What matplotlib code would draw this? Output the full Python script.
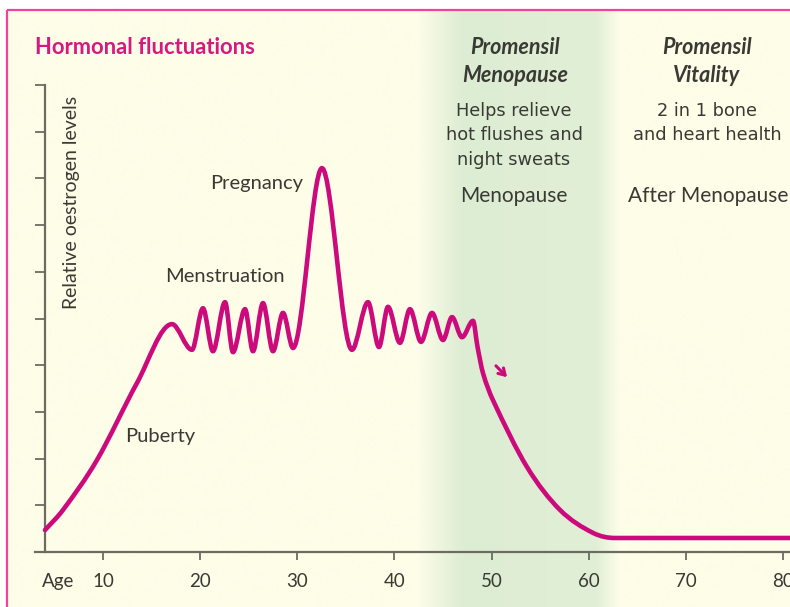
import numpy as np
import matplotlib
matplotlib.use('Agg')
import matplotlib.pyplot as plt
from matplotlib.path import Path
from matplotlib.patches import PathPatch

# ---------------- data ----------------
ages = [4.03, 5.88, 9.38, 13.50, 17.10, 19.16, 20.29, 21.32, 22.56,
        23.38, 24.62, 25.44, 26.47, 27.50, 28.53, 29.56, 32.54, 35.63, 37.28,
        38.41, 39.34, 40.57, 41.60, 42.74, 43.87, 45.00, 45.93, 46.96, 48.09,
        48.55, 49.12, 50.15, 53.65, 57.05, 60.44, 62.71, 82.0]
levels = [0.47, 0.90, 1.97, 3.62, 4.88, 4.33, 5.22, 4.30, 5.35,
          4.28, 5.20, 4.30, 5.33, 4.30, 5.12, 4.37, 8.22, 4.33, 5.35,
          4.39, 5.25, 4.48, 5.20, 4.50, 5.12, 4.54, 5.03, 4.60, 4.95,
          4.40, 3.83, 3.25, 1.82, 0.90, 0.41, 0.30, 0.30]
x_ticks = [10, 20, 30, 40, 50, 60, 70, 80]
y_ticks = [1, 2, 3, 4, 5, 6, 7, 8, 9, 10]
phase_labels = [("Puberty", 12.3, 2.48), ("Menstruation", 16.4, 5.89), ("Pregnancy", 21.0, 7.90)]

# ---------------- styling ----------------
W, H = 790, 607
CREAM = np.array([253, 253, 232]) / 255
GREEN = np.array([221, 237, 211]) / 255
BORDER = '#F0449C'
CURVE = '#CC0A7C'
TITLE = '#D41A80'
TXT = '#3a3a35'
AXC = '#6b6b60'
FONT = 'Lato'

fig = plt.figure(figsize=(W / 100, H / 100), dpi=100, facecolor='white')

# background layer in pixel coordinates
bg = fig.add_axes([0, 0, 1, 1])
bg.set_xlim(0, W)
bg.set_ylim(H, 0)
bg.axis('off')
xs = np.arange(7, W + 1)
stops = [7, 418, 462, 596, 620, W]
wts = [0, 0, 1, 0.9, 0, 0]
w = np.interp(xs, stops, wts)
img = (CREAM[None, :] * (1 - w[:, None]) + GREEN[None, :] * w[:, None])[None, :, :]
bg.imshow(img, extent=(7, W, H, 10), aspect='auto', interpolation='bilinear', zorder=0)
bg.plot([7, 7], [10, H], color=BORDER, lw=1.6, zorder=2, solid_capstyle='butt')
bg.plot([7, W], [10, 10], color=BORDER, lw=1.6, zorder=2, solid_capstyle='butt')

# header texts
bg.text(35, 47, 'Hormonal fluctuations', fontfamily=FONT, fontweight='bold',
        fontsize=15.8, color=TITLE, ha='left', va='center')
bg.text(72, 202, 'Relative oestrogen levels', rotation=90, fontfamily=FONT,
        fontsize=14, color=TXT, ha='center', va='center')
hdr = dict(fontfamily=FONT, fontweight='bold', fontstyle='italic', fontsize=15.5,
           color=TXT, ha='center', va='center')
bg.text(515, 47, 'Promensil', **hdr)
bg.text(515, 75, 'Menopause', **hdr)
bg.text(707, 47, 'Promensil', **hdr)
bg.text(707, 75, 'Vitality', **hdr)
sub = dict(fontfamily='DejaVu Sans', fontsize=12.8, color=TXT, ha='center', va='center')
for t, y in [('Helps relieve', 111), ('hot flushes and', 135), ('night sweats', 160)]:
    bg.text(514, y, t, **sub)
for t, y in [('2 in 1 bone', 111), ('and heart health', 135)]:
    bg.text(707, y, t, **sub)
ph = dict(fontfamily=FONT, fontsize=15, color=TXT, ha='center', va='center')
bg.text(514, 196, 'Menopause', **ph)
bg.text(708, 196, 'After Menopause', **ph)
bg.text(58, 582, 'Age', fontfamily=FONT, fontsize=13.5, color=TXT, ha='center', va='center')

# main chart axes
x0, x1 = 3.0, 82.0
ax = fig.add_axes([35 / W, (H - 552) / H, (802.4 - 35) / W, (552 - 15) / H])
ax.set_facecolor('none')
ax.set_xlim(x0, x1)
ax.set_ylim(0, 11.5)
for s in ['top', 'right']:
    ax.spines[s].set_visible(False)
ax.spines['left'].set_position(('data', ages[0]))
ax.spines['left'].set_bounds(0, 10)
ax.spines['bottom'].set_bounds(x0, x1)
for s in ['left', 'bottom']:
    ax.spines[s].set_color(AXC)
    ax.spines[s].set_linewidth(1.6)
ax.set_yticks(y_ticks)
ax.set_yticklabels([])
ax.set_xticks(x_ticks)
ax.set_xticklabels([str(v) for v in x_ticks], fontfamily=FONT, fontsize=13.5, color=TXT)
ax.tick_params(axis='y', direction='out', length=7.5, width=1.3, color=AXC)
ax.tick_params(axis='x', direction='out', length=6, width=1.3, color=AXC, pad=9)

# smooth curve through the knots (cubic Bezier segments drawn by matplotlib)
n = len(ages)
slopes = np.zeros(n)
for i in range(n):
    if i == 0:
        slopes[i] = (levels[1] - levels[0]) / (ages[1] - ages[0])
    elif i == n - 1:
        slopes[i] = 0.0
    else:
        d0 = levels[i] - levels[i - 1]
        d1 = levels[i + 1] - levels[i]
        if d0 * d1 <= 0:
            slopes[i] = 0.0
        else:
            slopes[i] = (levels[i + 1] - levels[i - 1]) / (ages[i + 1] - ages[i - 1])
verts = [(ages[0], levels[0])]
codes = [Path.MOVETO]
for i in range(n - 1):
    dx = (ages[i + 1] - ages[i]) / 3.0
    verts += [(ages[i] + dx, levels[i] + slopes[i] * dx),
              (ages[i + 1] - dx, levels[i + 1] - slopes[i + 1] * dx),
              (ages[i + 1], levels[i + 1])]
    codes += [Path.CURVE4] * 3
ax.add_patch(PathPatch(Path(verts, codes), facecolor='none', edgecolor=CURVE,
                       lw=3.3, capstyle='round', joinstyle='round', zorder=3))

ax.annotate('', xy=(51.8, 3.70), xytext=(50.25, 4.03),
            arrowprops=dict(arrowstyle='->,head_length=0.45,head_width=0.28',
                            color=CURVE, lw=2.2))

for t, a, l in phase_labels:
    ax.text(a, l, t, fontfamily=FONT, fontsize=14.5, color=TXT, ha='left', va='center')

fig.savefig('out.png', dpi=100, facecolor='white')
